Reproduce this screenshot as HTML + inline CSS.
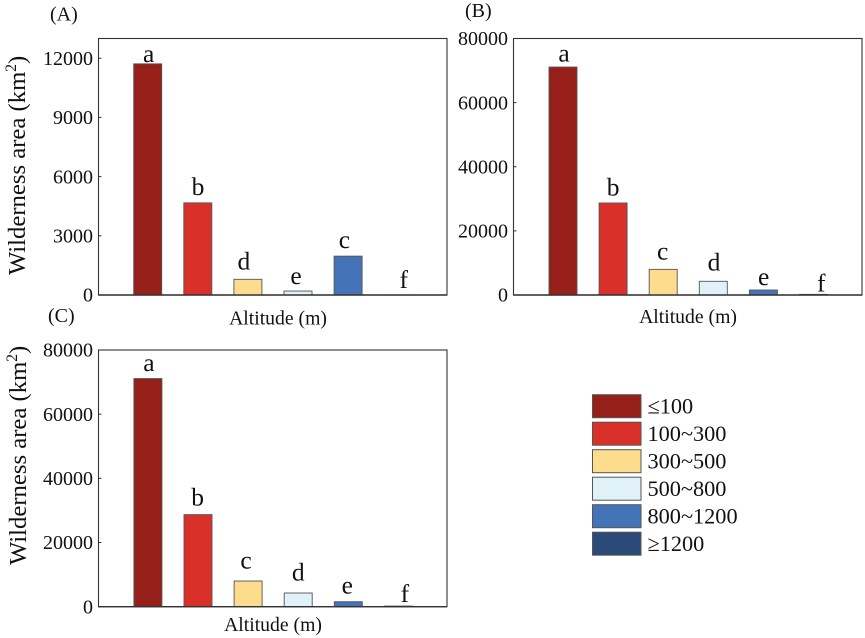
<!DOCTYPE html>
<html lang="en">
<head>
<meta charset="utf-8">
<title>Wilderness area by altitude</title>
<style>
html,body{margin:0;padding:0;background:#fff;}
body{width:865px;height:638px;overflow:hidden;}
svg{display:block;font-family:"Liberation Serif",serif;fill:#111;}
</style>
</head>
<body>
<svg id="chart" xmlns="http://www.w3.org/2000/svg" width="865" height="638" viewBox="0 0 865 638"></svg>
<script>
// Chart data
const categories = ["≤100", "100~300", "300~500", "500~800", "800~1200", "≥1200"];
const colors = ["#962019", "#d9302a", "#fedc8e", "#e0f2f8", "#4573b8", "#2c4a77"];
const valuesA = [11716, 4670, 795, 200, 1970, 5];
const valuesB = [71100, 28700, 8000, 4270, 1560, 200];
const valuesC = [71100, 28700, 8000, 4270, 1560, 200];
const lettersA = ["a", "b", "d", "e", "c", "f"];
const lettersB = ["a", "b", "c", "d", "e", "f"];
const lettersC = ["a", "b", "c", "d", "e", "f"];
const ticksA = [0, 3000, 6000, 9000, 12000];
const ticksB = [0, 20000, 40000, 60000, 80000];
const ticksC = [0, 20000, 40000, 60000, 80000];
const domainMaxA = 13000;
const domainMaxB = 80000;
const domainMaxC = 80000;

const svg = document.getElementById('chart');
const NS = 'http://www.w3.org/2000/svg';
function make(tag, attrs, parent, text) {
  const node = document.createElementNS(NS, tag);
  for (const k in attrs) node.setAttribute(k, attrs[k]);
  if (text !== undefined) node.textContent = text;
  parent.appendChild(node);
  return node;
}

function drawPanel(cfg) {
  const g = make('g', {}, svg);
  
  

  const y = v => cfg.bottom - (v / cfg.max) * (cfg.bottom - cfg.top);
  const x = i => cfg.firstCenter + i * cfg.step;

  const frame = make('rect', {x: cfg.left, y: cfg.top, width: cfg.right - cfg.left, height: cfg.bottom - cfg.top, fill: 'none', stroke: '#333', 'stroke-width': 1.1}, g);
  
  

  cfg.ticks.forEach(t => {
    const tick = make('line', {x1: cfg.left, x2: cfg.left + 3, y1: y(t), y2: y(t), stroke: '#333', 'stroke-width': 1}, g);
    
    
    const label = make('text', {x: cfg.left - 5.5, y: y(t) + 6.7, 'text-anchor': 'end', 'font-size': 20}, g, String(t));
    
    
  });

  cfg.values.forEach((v, i) => {
    const bar = make('rect', {x: x(i) - 14, y: y(v), width: 28, height: cfg.bottom - y(v), fill: colors[i], stroke: '#555', 'stroke-width': 0.9}, g);
    
    
    const sig = make('text', {x: x(i) + cfg.nudge[i], y: y(v) - cfg.lift[i], 'text-anchor': 'middle', 'font-size': 25.5}, g, cfg.letters[i]);
    
    
  });

  const axis = make('line', {x1: cfg.left, x2: cfg.right, y1: cfg.bottom, y2: cfg.bottom, stroke: '#333', 'stroke-width': 1.4}, g);
  
  

  const xt = make('text', {x: cfg.xTitleX, y: cfg.xTitleY, 'text-anchor': 'middle', 'font-size': 19.7}, g, 'Altitude (m)');
  
  

  const pl = make('text', {x: cfg.tagX, y: cfg.tagY, 'font-size': 20}, g, cfg.tag);
  
  

  if (cfg.yTitleX) {
    const yt = make('text', {transform: 'translate(' + cfg.yTitleX + ',' + cfg.yTitleY + ') rotate(-90)', 'font-size': 24.7}, g);
    
    
    make('tspan', {}, yt, 'Wilderness area (km');
    make('tspan', {dy: -9, 'font-size': 15.5}, yt, '2');
    make('tspan', {dy: 9}, yt, ')');
  }
}

drawPanel({id: 'a', tag: '(A)', values: valuesA, letters: lettersA, ticks: ticksA, max: domainMaxA,
  left: 98.5, right: 447, top: 38.5, bottom: 295, firstCenter: 147.7, step: 50.1,
  nudge: [1, 0.2, -4, -2, -3.7, 5.5], lift: [2, 7.7, 10, 7, 8, 7],
  xTitleX: 278, xTitleY: 324.5, tagX: 50, tagY: 20.5, yTitleX: 25, yTitleY: 275});
drawPanel({id: 'b', tag: '(B)', values: valuesB, letters: lettersB, ticks: ticksB, max: domainMaxB,
  left: 513.5, right: 862, top: 38.5, bottom: 295, firstCenter: 563, step: 50.1,
  nudge: [1, 0, -0.5, 0.7, 0.3, 7.7], lift: [5.5, 7.7, 10, 10.6, 5, 3],
  xTitleX: 688, xTitleY: 323, tagX: 465, tagY: 17});
drawPanel({id: 'c', tag: '(C)', values: valuesC, letters: lettersC, ticks: ticksC, max: domainMaxC,
  left: 98.5, right: 447, top: 350, bottom: 606.7, firstCenter: 147.9, step: 50.1,
  nudge: [1, -0.4, -2, 0, -1, 6.5], lift: [7.7, 9, 12.7, 12.7, 8, 4],
  xTitleX: 273, xTitleY: 631, tagX: 48, tagY: 322, yTitleX: 26, yTitleY: 565});

// Legend
const legend = make('g', {}, svg);


categories.forEach((c, i) => {
  const rowY = 394.7 + i * 27.5;
  const swatch = make('rect', {x: 592.5, y: rowY, width: 48.5, height: 23, fill: colors[i], stroke: '#555', 'stroke-width': 1}, legend);
  
  
  const text = make('text', {x: 647.5, y: rowY + 18.8, 'font-size': 22.3}, legend, c);
  
  
});
</script>
</body>
</html>
